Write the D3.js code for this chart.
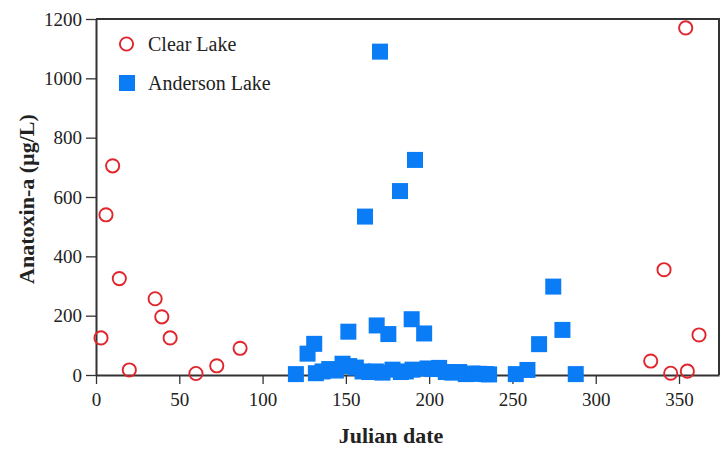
<!DOCTYPE html>
<html>
<head>
<meta charset="utf-8">
<script src="https://cdn.jsdelivr.net/npm/d3@7"></script>
<style>
  html, body { margin: 0; padding: 0; background: #fff; }
  svg { display: block; }
  text { font-family: "Liberation Serif", "Times New Roman", serif; fill: #222; }
</style>
</head>
<body>
<svg id="chart" width="727" height="458"></svg>
<script>
// ---- data ----
const seriesNames = ["Clear Lake", "Anderson Lake"];
const clearDay = [3, 6, 10, 14, 20, 35.5, 39.5, 44.5, 60, 72.5, 86.5, 333, 341, 345, 355, 354, 362];
const clearVal = [125, 540, 705, 325, 17, 257, 196, 125, 5, 31, 90, 47, 355, 6, 13, 1170, 135];
const andDay = [120, 127, 131, 132, 136, 140, 144, 148, 151.5, 152, 156, 160, 161.5, 164, 168, 168.5, 170.5, 172, 175.5, 178, 182.5, 183, 186, 189.5, 190, 191.5, 197, 199, 202, 206, 210, 214, 218, 222, 226, 230, 234, 236, 252, 259, 266, 274.5, 280, 288];
const andVal = [3, 72, 105, 6, 12, 20, 15, 38, 146, 30, 25, 12, 534, 10, 12, 167, 1090, 8, 138, 18, 620, 10, 12, 188, 18, 725, 140, 22, 20, 24, 10, 8, 10, 3, 5, 4, 3, 2, 3, 17, 104, 298, 152, 3];
const xTicks = [0, 50, 100, 150, 200, 250, 300, 350];
const yTicks = [0, 200, 400, 600, 800, 1000, 1200];
const xTitle = "Julian date";
const yTitle = "Anatoxin-a (\u00b5g/L)";

// ---- layout ----
const svg = d3.select("#chart");
const mLeft = 96, mRight = 719, mTop = 19, mBottom = 375;
const x = d3.scaleLinear().domain([0, 374]).range([mLeft, mRight]);
const y = d3.scaleLinear().domain([0, 1200]).range([mBottom, mTop]);
const axisColor = "#333";
const red = "#e0262c", blue = "#0a7cf5";

// frame (top & right)
svg.append("path")
  .attr("d", `M${mLeft},${mTop}H${mRight}V${mBottom}`)
  .attr("fill", "none").attr("stroke", axisColor).attr("stroke-width", 2);

// x axis
const gx = svg.append("g").attr("transform", `translate(0,${mBottom})`)
  .call(d3.axisBottom(x).tickValues(xTicks).tickFormat(d3.format("d"))
    .tickSize(9).tickSizeOuter(0).tickPadding(8));
// y axis
const gy = svg.append("g").attr("transform", `translate(${mLeft},0)`)
  .call(d3.axisLeft(y).tickValues(yTicks).tickFormat(d3.format("d"))
    .tickSize(10).tickSizeOuter(0).tickPadding(4));

[gx, gy].forEach(g => {
  g.select(".domain").attr("stroke", axisColor).attr("stroke-width", 2);
  g.selectAll(".tick line").attr("stroke", axisColor).attr("stroke-width", 1.3);
  g.selectAll(".tick text").attr("font-size", 19)
    .attr("font-family", "Liberation Serif, Times New Roman, serif").attr("fill", "#222");
});
gx.selectAll(".tick text").attr("dy", "0.72em");

// titles
svg.append("text").attr("x", 391).attr("y", 443)
  .attr("text-anchor", "middle").attr("font-size", 22).attr("font-weight", "bold")
  .text(xTitle);
svg.append("text").attr("transform", `translate(34,199) rotate(-90)`)
  .attr("text-anchor", "middle").attr("font-size", 22).attr("font-weight", "bold")
  .text(yTitle);

// data
const clear = clearDay.map((d, i) => ({ d, v: clearVal[i] }));
const anderson = andDay.map((d, i) => ({ d, v: andVal[i] }));
const sq = 16;

svg.append("g").selectAll("rect").data(anderson).join("rect")
  .attr("x", p => x(p.d) - sq / 2).attr("y", p => y(p.v) - sq / 2)
  .attr("width", sq).attr("height", sq).attr("fill", blue);

svg.append("g").selectAll("circle").data(clear).join("circle")
  .attr("cx", p => x(p.d)).attr("cy", p => y(p.v)).attr("r", 6.6)
  .attr("fill", "none").attr("stroke", red).attr("stroke-width", 1.9);

// legend
const lg = svg.append("g");
lg.append("circle").attr("cx", 126.5).attr("cy", 44).attr("r", 6.6)
  .attr("fill", "none").attr("stroke", red).attr("stroke-width", 1.9);
lg.append("text").attr("x", 148).attr("y", 50.5).attr("font-size", 20).text(seriesNames[0]);
lg.append("rect").attr("x", 127 - sq / 2).attr("y", 83 - sq / 2).attr("width", sq).attr("height", sq).attr("fill", blue);
lg.append("text").attr("x", 148).attr("y", 90).attr("font-size", 20).text(seriesNames[1]);
</script>
</body>
</html>
